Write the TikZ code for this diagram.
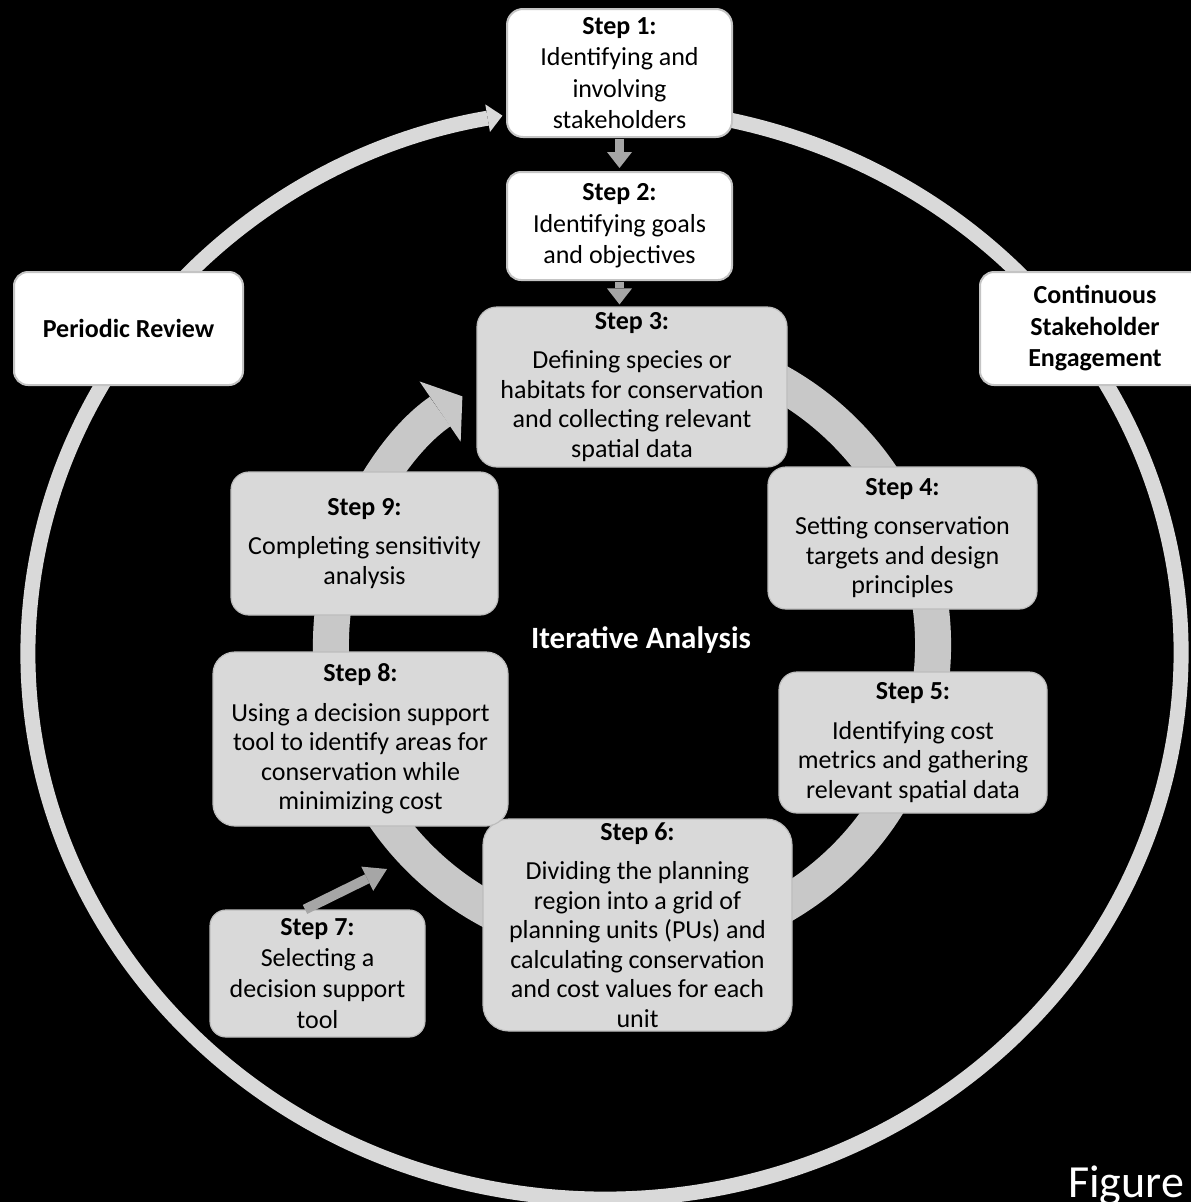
\documentclass[tikz,border=0pt]{standalone}
\usepackage{fontspec}
\setmainfont{Carlito}
\usetikzlibrary{arrows.meta,calc}

\definecolor{boxgray}{HTML}{D9D9D9}
\definecolor{boxedge}{HTML}{BDBDBD}
\definecolor{ringgray}{HTML}{C8C8C8}
\definecolor{outergray}{HTML}{D9D9D9}
\definecolor{arrowgray}{HTML}{A6A6A6}
\definecolor{whiteedge}{HTML}{C4C4C4}

\tikzset{
  stepbox/.style={rectangle, fill=boxgray, draw=boxedge, line width=1.2pt,
    align=center, inner sep=0pt, font=\fontsize{26}{29.5}\selectfont},
  whitebox/.style={rectangle, fill=white, draw=whiteedge, line width=2pt,
    align=center, inner sep=0pt, font=\fontsize{26}{31.5}\selectfont},
  sz/.style 2 args={minimum width=#1pt, minimum height=#2pt},
  blockarrow/.style={draw=arrowgray, line width=9pt,
    -{Triangle[length=16pt,width=25pt,line width=0pt]}},
  outerring/.style={draw=outergray, line width=15pt,
    -{Triangle[length=15pt,width=28pt,line width=0pt]}},
  innerring/.style={draw=ringgray, line width=36pt,
    -{Triangle[length=27pt,width=73pt,line width=0pt]}},
}

\begin{document}
\begin{tikzpicture}[x=1pt, y=-1pt]
  % canvas
  \useasboundingbox (0,0) rectangle (1191,1202);
  \fill[black] (0,0) rectangle (1191,1202);
  \clip (0,0) rectangle (1191,1202);

  % outer cycle: continuous stakeholder engagement / periodic review
  \draw[outerring] (604.5,653) ++(-80:576.5 and 546)
    arc[start angle=-80, end angle=259.8, x radius=576.5, y radius=546];

  % inner cycle: iterative analysis
  \draw[innerring] (632,645) ++(-75:301)
    arc[start angle=-75, end angle=235.7, radius=301];

  % steps
  \node[whitebox, sz={225}{128}, rounded corners=16pt] (s1) at (619.5,73)
    {\textbf{Step 1:}\\Identifying and\\involving\\stakeholders};
  \node[whitebox, sz={225}{108}, rounded corners=14pt] (s2) at (619.5,226)
    {\textbf{Step 2:}\\Identifying goals\\and objectives};
  \node[stepbox, sz={310}{160}, rounded corners=20pt] (s3) at (632,387)
    {\textbf{Step 3:}\\[10pt]Defining species or\\habitats for conservation\\and collecting relevant\\spatial data};
  \node[stepbox, sz={269}{142}, rounded corners=18pt] (s4) at (902.5,538)
    {\textbf{Step 4:}\\[10pt]Setting conservation\\targets and design\\principles};
  \node[stepbox, sz={268}{141}, rounded corners=18pt] (s5) at (913,742.5)
    {\textbf{Step 5:}\\[10pt]Identifying cost\\metrics and gathering\\relevant spatial data};
  \node[stepbox, sz={309}{212}, rounded corners=26pt] (s6) at (637.5,925)
    {\textbf{Step 6:}\\[10pt]Dividing the planning\\region into a grid of\\planning units (PUs) and\\calculating conservation\\and cost values for each\\unit};
  \node[stepbox, sz={215}{127}, rounded corners=16pt,
        font=\fontsize{26}{31}\selectfont] (s7) at (317.5,973.5)
    {\textbf{Step 7:}\\Selecting a\\decision support\\tool};
  \node[stepbox, sz={295}{174}, rounded corners=22pt] (s8) at (360.5,739)
    {\textbf{Step 8:}\\[10pt]Using a decision support\\tool to identify areas for\\conservation while\\minimizing cost};
  \node[stepbox, sz={267}{143}, rounded corners=18pt] (s9) at (364.5,543.5)
    {\textbf{Step 9:}\\[10pt]Completing sensitivity\\analysis};

  % labels of the outer cycle
  \node[whitebox, sz={229}{113}, rounded corners=14pt] (pr) at (128.5,328.5)
    {\textbf{Periodic Review}};
  \node[whitebox, sz={230}{113}, rounded corners=14pt] (cse) at (1095,328.5)
    {\textbf{Continuous}\\\textbf{Stakeholder}\\\textbf{Engagement}};

  % connectors between steps
  \draw[blockarrow, shorten >=3pt, shorten <=1pt] (s1.south) -- (s2.north);
  \draw[blockarrow, shorten >=2pt, shorten <=1pt] (s2.south) -- (s2.south |- s3.north);
  \coordinate (a7) at (387,869);
  \draw[blockarrow, line width=10pt,
        -{Triangle[length=22pt,width=27pt,line width=0pt]}]
    ([xshift=-12.5pt]s7.north) -- (a7);

  % titles
  \node[text=white, font=\fontsize{31}{36}\selectfont\bfseries] (ia) at (641,640)
    {Iterative Analysis};
  \node[text=white, anchor=base west, inner sep=0pt,
        font=\fontsize{46}{52}\selectfont] (fig) at (1068,1197) {Figure};
\end{tikzpicture}
\end{document}
